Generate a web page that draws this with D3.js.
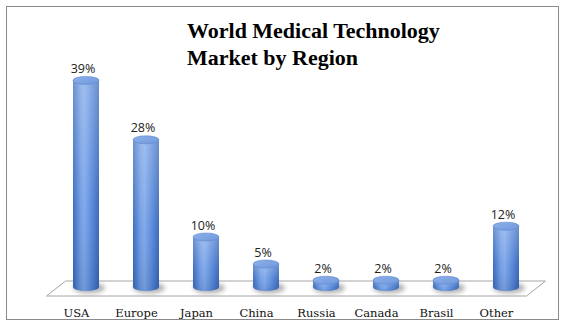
<!DOCTYPE html>
<html>
<head>
<meta charset="utf-8">
<script src="https://cdn.jsdelivr.net/npm/d3@7"></script>
<style>
  html, body { margin: 0; padding: 0; background: #fff; }
  svg { display: block; }
</style>
</head>
<body>
<script>
const categories = ["USA", "Europe", "Japan", "China", "Russia", "Canada", "Brasil", "Other"];
const values = [39, 28, 10, 5, 2, 2, 2, 12];
const valueLabels = ["39%", "28%", "10%", "5%", "2%", "2%", "2%", "12%"];
const titleLines = ["World Medical Technology", "Market by Region"];

const W = 565, H = 327;
const svg = d3.select("body").append("svg").attr("width", W).attr("height", H);
const defs = svg.append("defs");

// frame
svg.append("rect").attr("x", 6.5).attr("y", 6.5).attr("width", 552).attr("height", 313)
  .attr("fill", "#fff").attr("stroke", "#8a8a8a").attr("stroke-width", 1);

const x = d3.scaleBand().domain(categories).range([56, 536]).paddingInner(0.5667).paddingOuter(0.2833);
const y = d3.scaleLinear().domain([0, 40]).range([291, 75]);

const depthX = 9.5, depthY = 7.5;
const floorY = 288.5;
const [r0, r1] = x.range();

// floor
svg.append("path")
  .attr("d", `M${r0 - depthX},${floorY + depthY} L${r0 + depthX},${floorY - depthY} L${r1 + depthX},${floorY - depthY} L${r1 - depthX},${floorY + depthY} Z`)
  .attr("fill", "#fff").attr("stroke", "#a6a6a6").attr("stroke-width", 1);

// gradients
const hg = defs.append("linearGradient").attr("id", "body").attr("x1", 0).attr("x2", 1).attr("y1", 0).attr("y2", 0);
[[0, "#3567bd"], [0.3, "#6f9be3"], [0.45, "#7aa5ea"], [0.75, "#5183d6"], [1, "#3464b8"]]
  .forEach(([o, c]) => hg.append("stop").attr("offset", o).attr("stop-color", c));
const vg = defs.append("linearGradient").attr("id", "shade").attr("x1", 0).attr("x2", 0).attr("y1", 0).attr("y2", 1);
[[0, "#ffffff", 0.28], [0.6, "#ffffff", 0.05], [1, "#000000", 0.08]]
  .forEach(([o, c, a]) => vg.append("stop").attr("offset", o).attr("stop-color", c).attr("stop-opacity", a));
const tg = defs.append("linearGradient").attr("id", "top").attr("x1", 0).attr("x2", 1).attr("y1", 0).attr("y2", 1);
[[0, "#8fb1ea"], [1, "#6e97dc"]].forEach(([o, c]) => tg.append("stop").attr("offset", o).attr("stop-color", c));
defs.append("filter").attr("id", "blur").attr("x", "-50%").attr("y", "-50%").attr("width", "200%").attr("height", "200%")
  .append("feGaussianBlur").attr("stdDeviation", 2.2);

const bw = x.bandwidth();
const rx = bw / 2, ry = 4;
const baseY = y(0) - 4;

const g = svg.append("g").selectAll("g").data(categories).join("g");

// shadow
g.append("ellipse")
  .attr("cx", d => x(d) + bw / 2 + 3).attr("cy", baseY + 1)
  .attr("rx", rx + 3).attr("ry", ry + 1.5)
  .attr("fill", "#7a7a7a").attr("opacity", 0.55).attr("filter", "url(#blur)");

// body
g.append("path")
  .attr("d", (d, i) => {
    const cx = x(d) + bw / 2, top = y(values[i]);
    return `M${cx - rx},${top} L${cx - rx},${baseY} A${rx},${ry} 0 0 0 ${cx + rx},${baseY} L${cx + rx},${top} Z`;
  })
  .attr("fill", "url(#body)");
g.append("path")
  .attr("d", (d, i) => {
    const cx = x(d) + bw / 2, top = y(values[i]);
    return `M${cx - rx},${top} L${cx - rx},${baseY} A${rx},${ry} 0 0 0 ${cx + rx},${baseY} L${cx + rx},${top} Z`;
  })
  .attr("fill", "url(#shade)");

// top
g.append("ellipse")
  .attr("cx", d => x(d) + bw / 2).attr("cy", (d, i) => y(values[i]))
  .attr("rx", rx).attr("ry", ry)
  .attr("fill", "url(#top)").attr("stroke", "#5f88cf").attr("stroke-width", 0.6);

// value labels
g.append("text")
  .attr("x", d => x(d) + bw / 2 - 3).attr("y", (d, i) => y(values[i]) - 7.5)
  .attr("text-anchor", "middle")
  .attr("font-family", "'Open Sans', sans-serif").attr("font-size", 12.5)
  .attr("fill", "#222")
  .text((d, i) => valueLabels[i]);

// category labels
svg.append("g").selectAll("text").data(categories).join("text")
  .attr("x", d => x(d) + bw / 2 - depthX).attr("y", 317)
  .attr("text-anchor", "middle")
  .attr("font-family", "'DejaVu Serif', serif").attr("font-size", 11.5)
  .attr("fill", "#111")
  .text(d => d);

// title
const title = svg.append("g");
const t1 = title.append("text").attr("x", 187).attr("y", 38)
  .attr("font-family", "'Liberation Serif', serif").attr("font-weight", "bold")
  .attr("font-size", 22).attr("fill", "#000").text(titleLines[0]);
const w1 = t1.node().getComputedTextLength();
const fs = 22 * 253 / w1;
t1.attr("font-size", fs);
title.append("text").attr("x", 187).attr("y", 65)
  .attr("font-family", "'Liberation Serif', serif").attr("font-weight", "bold")
  .attr("font-size", fs).attr("fill", "#000").text(titleLines[1]);
</script>
</body>
</html>
